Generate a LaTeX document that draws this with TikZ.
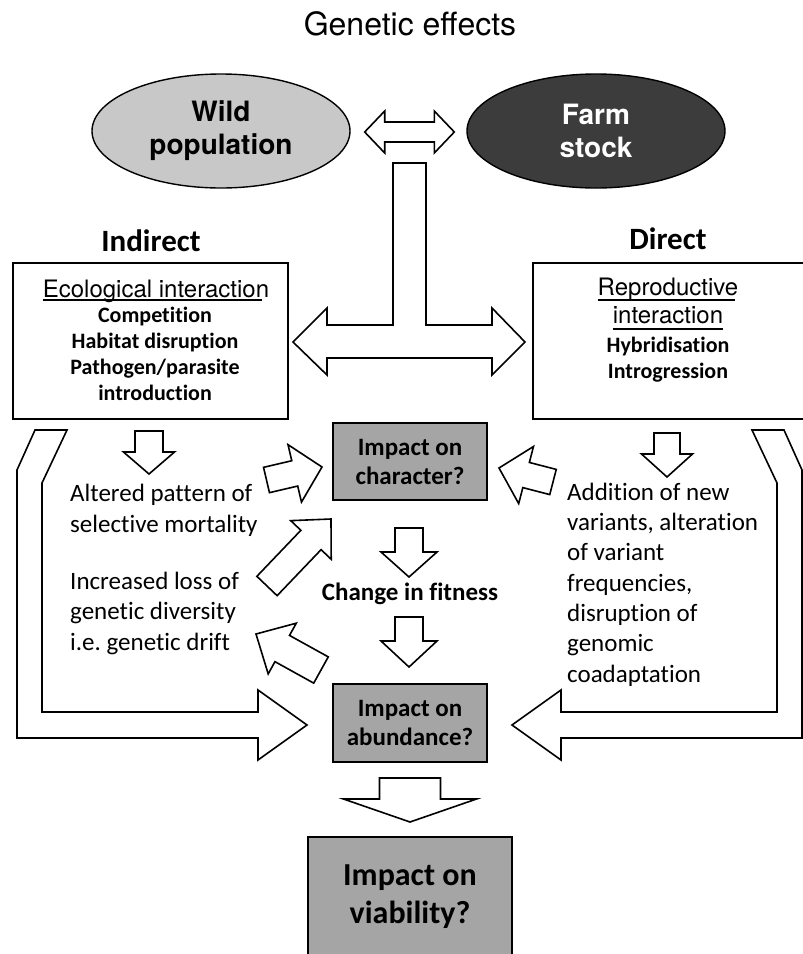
\documentclass[tikz,border=0pt]{standalone}
\usepackage{fontspec}
\setmainfont{Carlito}[Ligatures=CommonOff]
\newfontfamily\helvfont{TeX Gyre Heros}
\usetikzlibrary{calc,positioning,shapes.geometric}
\frenchspacing

\definecolor{wildgray}{HTML}{C8C8C8}
\definecolor{farmgray}{HTML}{3C3C3C}
\definecolor{impactgray}{HTML}{A5A5A5}

\tikzset{
  blockarr/.style={draw, fill=white, line width=1.6pt},
  popnode/.style={ellipse, draw, line width=1.4pt, minimum width=258pt, minimum height=114pt, inner sep=0pt, align=center, font=\helvfont\bfseries\fontsize{28}{33}\selectfont},
  framebox/.style={draw, line width=2pt, inner sep=0pt},
  impactbox/.style={draw, line width=2pt, fill=impactgray, inner sep=0pt, align=center, font=\bfseries\fontsize{25}{29}\selectfont},
  bodytext/.style={inner sep=0pt, align=left, font=\fontsize{25}{30.3}\selectfont},
  listtext/.style={inner sep=0pt, align=center, font=\bfseries\fontsize{22}{25.7}\selectfont},
  headtext/.style={inner sep=0pt, font=\helvfont\fontsize{24}{28}\selectfont},
  sidetitle/.style={inner sep=0pt, font=\bfseries\fontsize{31}{36}\selectfont},
}

\newcommand{\blockarrow}[5]{%
  \coordinate (ba-a) at #1;
  \coordinate (ba-b) at #2;
  \coordinate (ba-c) at ($(ba-b)!#5!(ba-a)$);
  \draw[blockarr] ($(ba-a)!#3!90:(ba-b)$) -- ($(ba-c)!#3!-90:(ba-a)$) -- ($(ba-c)!#4!-90:(ba-a)$) -- (ba-b)
    -- ($(ba-c)!#4!90:(ba-a)$) -- ($(ba-c)!#3!90:(ba-a)$) -- ($(ba-a)!#3!-90:(ba-b)$) -- cycle;
}
\newcommand{\dblockarrow}[5]{%
  \coordinate (ba-a) at #1;
  \coordinate (ba-b) at #2;
  \coordinate (ba-c) at ($(ba-a)!#5!(ba-b)$);
  \coordinate (ba-d) at ($(ba-b)!#5!(ba-a)$);
  \draw[blockarr] (ba-a) -- ($(ba-c)!#4!90:(ba-b)$) -- ($(ba-c)!#3!90:(ba-b)$) -- ($(ba-d)!#3!-90:(ba-a)$)
    -- ($(ba-d)!#4!-90:(ba-a)$) -- (ba-b) -- ($(ba-d)!#4!90:(ba-a)$) -- ($(ba-d)!#3!90:(ba-a)$)
    -- ($(ba-c)!#3!-90:(ba-b)$) -- ($(ba-c)!#4!-90:(ba-b)$) -- cycle;
}

\begin{document}
\begin{tikzpicture}[x=1pt,y=-1pt]
\useasboundingbox (0,0) rectangle (803,954);
\node (title) at (410,24) [inner sep=0pt, font=\helvfont\fontsize{32}{38}\selectfont] {Genetic effects};
\node (wild) at (221,131) [popnode, fill=wildgray] {Wild\\population};
\node (farm) at (596,131) [popnode, fill=farmgray, text=white] {Farm\\stock};
\dblockarrow{($(wild.east)+(14,1)$)}{($(farm.west)+(-12,1)$)}{10pt}{21pt}{20pt}
\draw[blockarr] (393,163) -- (426,163) -- (426,325) -- (492,325) -- (492,308) -- (525,342) -- (492,375) -- (492,358)
  -- (327,358) -- (327,375) -- (293,342) -- (327,308) -- (327,325) -- (393,325) -- cycle;

\node (indirect) at (151,251) [sidetitle, anchor=base] {Indirect};
\node (direct) at (668,249) [sidetitle, anchor=base] {Direct};
\node (ecobox) at (150.5,341) [framebox, minimum width=275pt, minimum height=156pt] {};
\node (reprobox) at (670,341) [framebox, minimum width=274pt, minimum height=156pt] {};
\node (ecohead) at (156,297) [headtext, anchor=base] {Ecological interaction};
\draw[line width=1.3pt] ($(ecohead.base west)+(0,3)$) -- ($(ecohead.base east)+(-7,3)$);
\node (ecolist) at (155,400) [listtext, anchor=base] {Competition\\Habitat disruption\\Pathogen/parasite\\introduction};
\node (reprohead) at (668,295) [headtext, anchor=base] {Reproductive};
\draw[line width=1.3pt] ($(reprohead.base west)+(0,5)$) -- ($(reprohead.base east)+(-3,5)$);
\node (reprohead2) at (668,323) [headtext, anchor=base] {interaction};
\draw[line width=1.3pt] ($(reprohead2.base west)+(0,6)$) -- ($(reprohead2.base east)+(0,6)$);
\node (reprolist) at (668,378) [listtext, anchor=base] {Hybridisation\\Introgression};

\node (character) at (410,461.5) [impactbox, minimum width=154pt, minimum height=77pt] {Impact on\\character?};
\node (fitness) at (410,600) [anchor=base, inner sep=0pt, font=\bfseries\fontsize{25}{30}\selectfont] {Change in fitness};
\node (abundance) at (410,723) [impactbox, minimum width=154pt, minimum height=78pt] {Impact on\\abundance?};
\node (viability) at (410,897) [impactbox, minimum width=204pt, minimum height=120pt, font=\bfseries\fontsize{32}{38}\selectfont] {Impact on\\viability?};

\node (altered) at (70,532) [bodytext, anchor=base west] {Altered pattern of\\selective mortality};
\node (drift) at (70,650) [bodytext, anchor=base west] {Increased loss of\\genetic diversity\\i.e. genetic drift};
\node (addition) at (567,682) [bodytext, anchor=base west] {Addition of new\\variants, alteration\\of variant\\frequencies,\\disruption of\\genomic\\coadaptation};

\blockarrow{($(ecobox.south)+(-1.5,11)$)}{($(ecobox.south)+(-1.5,54)$)}{14pt}{25.5pt}{22pt}
\blockarrow{($(reprobox.south)+(-3,13)$)}{($(reprobox.south)+(-3,57)$)}{13pt}{25.5pt}{23pt}
\blockarrow{($(character.south)+(-1,27)$)}{($(character.south)+(-1,76)$)}{14pt}{28pt}{25pt}
\blockarrow{($(abundance.north)+(-1,-66)$)}{($(abundance.north)+(-1,-16)$)}{14pt}{28pt}{26pt}
\blockarrow{($(abundance.south)+(0,15)$)}{($(viability.north)+(0,-14)$)}{30.5pt}{66.5pt}{23pt}
\blockarrow{($(character.west)+(-65.5,18.5)$)}{($(character.west)+(-10,5.5)$)}{13pt}{29.5pt}{28pt}
\blockarrow{($(character.east)+(65,20.5)$)}{($(character.east)+(11,6.5)$)}{13pt}{29.5pt}{28pt}
\blockarrow{($(character.south west)+(-65,85)$)}{($(character.south west)+(-1,18)$)}{14pt}{28pt}{29pt}
\blockarrow{($(abundance.north west)+(-11,-13)$)}{($(abundance.north west)+(-76,-49)$)}{15pt}{29pt}{30pt}

\draw[blockarr] (35,430) -- (67,430) -- (42,483) -- (42,712) -- (258,712) -- (258,690) -- (307,725) -- (258,760)
  -- (258,738) -- (17,738) -- (17,470) -- cycle;
\draw[blockarr] (784,430) -- (752,430) -- (777,483) -- (777,712) -- (561,712) -- (561,690) -- (512,725) -- (561,760)
  -- (561,738) -- (802,738) -- (802,470) -- cycle;
\end{tikzpicture}
\end{document}
